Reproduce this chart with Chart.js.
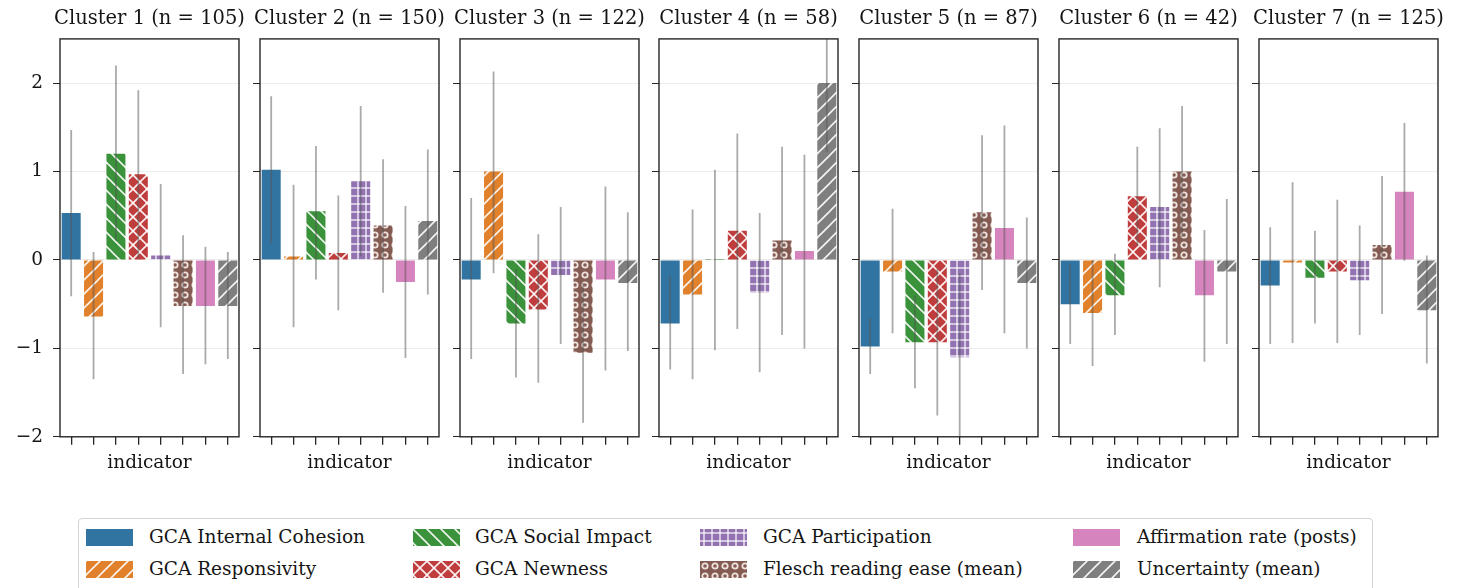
<!DOCTYPE html>
<html>
<head>
<meta charset="utf-8">
<script src="https://cdn.jsdelivr.net/npm/chart.js@4.4.1/dist/chart.umd.min.js"></script>
<style>
  body { margin: 0; background: #fff; width: 1463px; height: 588px; overflow: hidden; position: relative; font-family: 'DejaVu Serif', serif; }
  .panel { position: absolute; top: 0; }
  #legend { position: absolute; left: 78px; top: 518px; width: 1295px; height: 90px; border: 1px solid #d4d4d4; border-radius: 4px; box-sizing: border-box; }
  .swatch { position: absolute; }
  .label { position: absolute; font-size: 18.5px; line-height: 22px; color: #151515; white-space: nowrap; }
</style>
</head>
<body>
<div id="legend"></div>
<script>
const indicators = [
  'GCA Internal Cohesion', 'GCA Responsivity', 'GCA Social Impact', 'GCA Newness',
  'GCA Participation', 'Flesch reading ease (mean)', 'Affirmation rate (posts)', 'Uncertainty (mean)'
];
const colors = ['#3274a1', '#e1812c', '#3a923a', '#c03d3e', '#9372b2', '#845b53', '#d684bd', '#7f7f7f'];
const hatches = ['', '/', '\\', 'x', '+', 'o', '', '/'];

const clusterTitles = [
  'Cluster 1 (n = 105)', 'Cluster 2 (n = 150)', 'Cluster 3 (n = 122)', 'Cluster 4 (n = 58)',
  'Cluster 5 (n = 87)', 'Cluster 6 (n = 42)', 'Cluster 7 (n = 125)'
];

// mean z-score per indicator, one row per cluster
const clusterMeans = [
  [0.53, -0.64, 1.20, 0.97, 0.05, -0.52, -0.52, -0.52],
  [1.02, 0.04, 0.55, 0.08, 0.89, 0.39, -0.25, 0.44],
  [-0.22, 1.00, -0.72, -0.56, -0.17, -1.05, -0.22, -0.26],
  [-0.72, -0.39, 0.01, 0.33, -0.37, 0.22, 0.10, 2.00],
  [-0.98, -0.13, -0.93, -0.93, -1.10, 0.54, 0.36, -0.26],
  [-0.50, -0.60, -0.40, 0.72, 0.60, 1.00, -0.40, -0.13],
  [-0.29, -0.03, -0.20, -0.13, -0.23, 0.17, 0.77, -0.57]
];
// error bar ends
const clusterLow = [
  [-0.41, -1.35, 0.22, 0.02, -0.76, -1.29, -1.18, -1.12],
  [0.18, -0.76, -0.22, -0.57, 0.04, -0.37, -1.11, -0.39],
  [-1.12, -0.15, -1.33, -1.39, -0.95, -1.84, -1.25, -1.03],
  [-1.24, -1.35, -1.02, -0.78, -1.27, -0.85, -1.00, 1.22],
  [-1.29, -0.83, -1.45, -1.76, -2.05, -0.34, -0.83, -1.00],
  [-0.95, -1.20, -0.85, 0.16, -0.31, 0.26, -1.15, -0.95],
  [-0.95, -0.94, -0.72, -0.94, -0.85, -0.61, -0.01, -1.17]
];
const clusterHigh = [
  [1.47, 0.09, 2.20, 1.92, 0.86, 0.28, 0.15, 0.09],
  [1.85, 0.85, 1.29, 0.73, 1.74, 1.14, 0.61, 1.25],
  [0.70, 2.13, -0.10, 0.29, 0.60, -0.26, 0.83, 0.54],
  [-0.18, 0.57, 1.02, 1.43, 0.53, 1.28, 1.19, 2.80],
  [-0.66, 0.58, -0.40, -0.10, -0.15, 1.41, 1.52, 0.48],
  [-0.05, 0.00, 0.07, 1.28, 1.49, 1.74, 0.34, 0.69],
  [0.37, 0.88, 0.33, 0.68, 0.39, 0.95, 1.55, 0.05]
];

const FONT = 'DejaVu Serif';
const INK = '#151515';

// build a hatched fill like matplotlib's hatch patterns
function makeFill(color, hatch) {
  if (!hatch) return color;
  const s = hatch === '+' ? 8 : hatch === 'o' ? 10 : 14;
  const c = document.createElement('canvas');
  c.width = s; c.height = s;
  const g = c.getContext('2d');
  g.fillStyle = color;
  g.fillRect(0, 0, s, s);
  g.strokeStyle = 'rgba(255,255,255,0.92)';
  g.lineWidth = 1.6;
  const line = (x1, y1, x2, y2) => { g.beginPath(); g.moveTo(x1, y1); g.lineTo(x2, y2); g.stroke(); };
  if (hatch === '/' || hatch === 'x') {
    line(0, s, s, 0); line(-2, 2, 2, -2); line(s - 2, s + 2, s + 2, s - 2);
  }
  if (hatch === '\\' || hatch === 'x') {
    line(0, 0, s, s); line(-2, s - 2, 2, s + 2); line(s - 2, -2, s + 2, 2);
  }
  if (hatch === '+') {
    g.lineWidth = 1.3;
    line(0, s / 2, s, s / 2); line(s / 2, 0, s / 2, s);
  }
  if (hatch === 'o') {
    g.strokeStyle = '#eee2dc';
    g.lineWidth = 1.8;
    g.beginPath(); g.arc(s / 2, s / 2, 2.7, 0, Math.PI * 2); g.stroke();
  }
  return g.createPattern(c, 'repeat');
}

// error bars on top of the bars, and the frame round the plot area
function errorBarPlugin(low, high) {
  return {
    id: 'errorBars',
    afterDatasetsDraw(chart) {
      const { ctx, chartArea, scales: { x, y } } = chart;
      ctx.save();
      ctx.beginPath();
      ctx.rect(chartArea.left, chartArea.top, chartArea.width, chartArea.height);
      ctx.clip();
      ctx.strokeStyle = 'rgba(85,85,85,0.5)';
      ctx.lineWidth = 1.8;
      low.forEach((lo, i) => {
        const px = x.getPixelForValue(i);
        ctx.beginPath();
        ctx.moveTo(px, y.getPixelForValue(lo));
        ctx.lineTo(px, y.getPixelForValue(high[i]));
        ctx.stroke();
      });
      ctx.restore();
    },
    afterDraw(chart) {
      const { ctx, chartArea } = chart;
      ctx.save();
      ctx.strokeStyle = '#262626';
      ctx.lineWidth = 1.4;
      ctx.strokeRect(chartArea.left, chartArea.top, chartArea.width, chartArea.height);
      ctx.restore();
    }
  };
}

clusterTitles.forEach((title, i) => {
  const first = i === 0;
  const left = 60 + Math.round(199.8 * i);
  const axisW = first ? 60 : 10;
  const w = axisW + 179 + axisW;
  const h = 474;
  const wrap = document.createElement('div');
  wrap.className = 'panel';
  wrap.style.left = (left - axisW) + 'px';
  const cv = document.createElement('canvas');
  cv.width = w; cv.height = h;
  wrap.appendChild(cv);
  document.body.appendChild(wrap);

  new Chart(cv, {
    type: 'bar',
    data: {
      labels: indicators,
      datasets: [{
        data: clusterMeans[i],
        backgroundColor: colors.map((c, k) => makeFill(c, hatches[k])),
        borderWidth: 0,
        barPercentage: 0.85,
        categoryPercentage: 1
      }]
    },
    options: {
      responsive: false,
      animation: false,
      devicePixelRatio: 1,
      layout: { padding: 0 },
      scales: {
        x: {
          grid: { drawOnChartArea: false, drawTicks: true, tickLength: 8, tickColor: '#262626', lineWidth: 1.3, offset: false },
          border: { display: false },
          ticks: { display: false },
          title: { display: true, text: 'indicator', color: INK, font: { family: FONT, size: 18.5 }, padding: { top: 7, bottom: 0 } }
        },
        y: {
          min: -2,
          max: 2.5,
          grid: { color: '#ececec', lineWidth: 1, tickColor: '#262626', tickLength: 7 },
          border: { display: false },
          ticks: {
            display: first,
            stepSize: 1,
            includeBounds: false,
            padding: 10,
            color: INK,
            font: { family: FONT, size: 18.5 },
            callback: v => (v < 0 ? '\u2212' + Math.abs(v) : String(v))
          },
          afterFit: s => { s.width = axisW; }
        },
        // empty axis on the right keeps the title centred over the plot
        yPad: {
          position: 'right',
          display: true,
          grid: { display: false },
          border: { display: false },
          ticks: { display: false },
          afterFit: s => { s.width = axisW; }
        }
      },
      plugins: {
        legend: { display: false },
        tooltip: { enabled: false },
        title: {
          display: true,
          text: title,
          color: INK,
          font: { family: FONT, size: 19.5, weight: 'normal' },
          padding: { top: 7, bottom: 8.5 }
        }
      }
    },
    plugins: [errorBarPlugin(clusterLow[i], clusterHigh[i])]
  });
});

// legend: four columns, two rows, filled column by column
const legendSwatchX = [86, 413, 700, 1073];
const legendTextX = [149, 475, 763, 1137];
const legendRowY = [537, 569];
indicators.forEach((name, k) => {
  const col = Math.floor(k / 2), row = k % 2;
  const sw = document.createElement('canvas');
  sw.width = 47; sw.height = 17;
  sw.className = 'swatch';
  sw.style.left = legendSwatchX[col] + 'px';
  sw.style.top = (legendRowY[row] - 8.5) + 'px';
  const g = sw.getContext('2d');
  g.fillStyle = makeFill(colors[k], hatches[k]);
  g.fillRect(0, 0, 47, 17);
  document.body.appendChild(sw);
  const t = document.createElement('div');
  t.className = 'label';
  t.textContent = name;
  t.style.left = legendTextX[col] + 'px';
  t.style.top = (legendRowY[row] - 11) + 'px';
  document.body.appendChild(t);
});
</script>
</body>
</html>
